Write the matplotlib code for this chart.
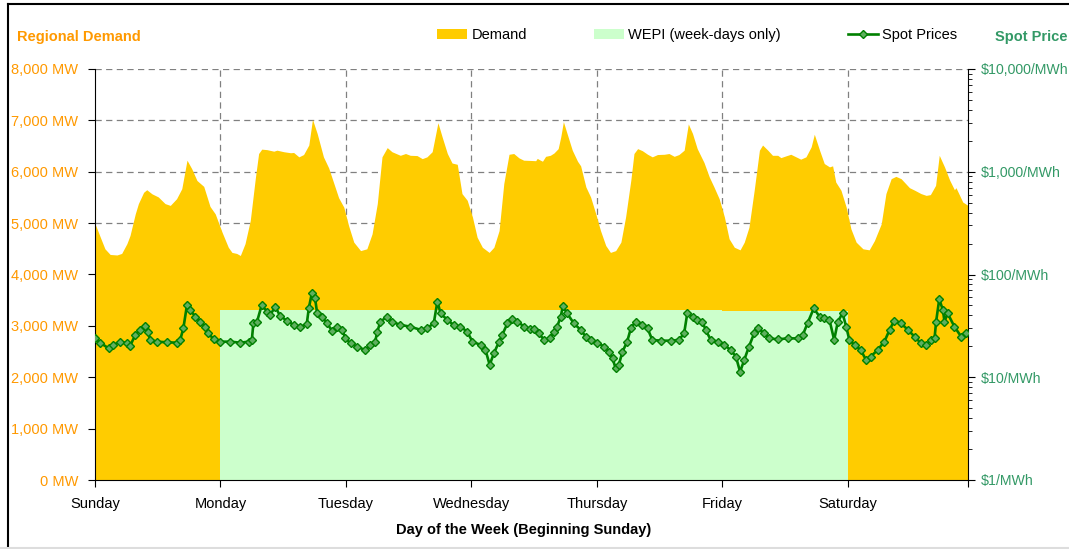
import matplotlib
matplotlib.use("Agg")
import matplotlib.pyplot as plt
from matplotlib.lines import Line2D
from matplotlib.patches import Patch
from matplotlib.ticker import FixedLocator, NullFormatter, LogLocator, FuncFormatter

plt.rcParams['font.family'] = ['Liberation Sans', 'DejaVu Sans']

# ---------------- data ----------------
day_names = ["Sunday", "Monday", "Tuesday", "Wednesday", "Thursday", "Friday", "Saturday"]

demand_hours = [0, 1.0, 1.9, 2.9, 4.2, 5.1, 6.1, 6.7, 7.7, 8.3, 9.3, 9.9, 10.9, 12.1, 13.4, 14.4,
                15.6, 16.6, 17.6, 18.5, 19.5, 20.8, 22.0, 23.0, 24.3, 25.5, 26.2, 27.1, 27.8, 28.7,
                29.7, 30.7, 31.3, 31.9, 32.9, 34.2, 34.8, 36.1, 37.4, 38.0, 39.0, 39.9, 40.9, 41.6,
                42.5, 43.7, 44.7, 45.7, 46.6, 47.6, 48.5, 49.5, 50.8, 52.0, 53.0, 54.0, 54.9, 55.9,
                56.8, 58.4, 59.4, 60.3, 61.6, 62.6, 63.5, 64.5, 65.6, 66.4, 67.4, 68.3, 69.3, 70.2,
                71.2, 72.2, 73.1, 74.1, 75.4, 76.3, 77.3, 78.2, 79.2, 80.1, 81.1, 82.0, 83.3, 84.3,
                84.6, 85.2, 85.6, 86.2, 87.1, 87.8, 88.6, 89.1, 89.6, 90.3, 91.3, 92.3, 92.9, 93.9,
                94.8, 95.8, 96.7, 97.7, 98.6, 99.6, 100.6, 101.5, 102.5, 103.1, 103.8, 104.7, 105.7,
                106.6, 107.6, 108.9, 109.8, 110.8, 111.7, 112.7, 113.5, 114.3, 115.2, 116.5, 117.5,
                118.4, 119.4, 120.4, 121.3, 122.3, 123.4, 124.2, 125.1, 126.1, 127.1, 127.7, 128.7,
                129.6, 130.6, 131.2, 132.2, 133.1, 134.1, 135.0, 136.0, 137.0, 137.6, 138.6, 139.5,
                140.5, 141.1, 141.7, 142.7, 143.7, 144.6, 145.6, 146.9, 148.1, 149.1, 150.4, 151.3,
                152.3, 153.2, 154.2, 155.8, 156.8, 158.0, 159.0, 159.8, 160.8, 161.5, 162.5, 163.5,
                164.4, 164.7, 165.4, 166.0, 167.0]
demand_mw = [4990, 4730, 4500, 4390, 4380, 4410, 4600, 4760, 5180, 5380, 5600, 5650, 5570, 5510,
             5380, 5345, 5475, 5670, 6225, 6060, 5830, 5715, 5325, 5180, 4825, 4530, 4430, 4410,
             4370, 4600, 5050, 5900, 6355, 6440, 6430, 6400, 6420, 6390, 6370, 6375, 6290, 6335,
             6520, 7020, 6745, 6290, 6075, 5770, 5495, 5310, 4955, 4630, 4465, 4500, 4790, 5380,
             6290, 6470, 6390, 6320, 6355, 6320, 6315, 6255, 6290, 6390, 6955, 6680, 6355, 6170,
             6145, 5575, 5445, 5120, 4725, 4530, 4430, 4530, 4855, 5770, 6340, 6355, 6270, 6225,
             6220, 6215, 6260, 6225, 6205, 6300, 6320, 6365, 6450, 6680, 6975, 6745, 6420, 6205,
             6115, 5705, 5510, 5180, 4855, 4565, 4430, 4465, 4630, 5120, 5835, 6355, 6450, 6410,
             6340, 6290, 6335, 6340, 6355, 6300, 6335, 6420, 6930, 6745, 6450, 6180, 5900, 5705,
             5475, 5120, 4695, 4530, 4480, 4630, 4920, 5640, 6420, 6520, 6420, 6320, 6320, 6275,
             6310, 6340, 6290, 6245, 6290, 6485, 6730, 6420, 6160, 6095, 6115, 5800, 5640, 5310,
             4890, 4630, 4500, 4480, 4660, 4985, 5575, 5865, 5910, 5865, 5690, 5640, 5575, 5540,
             5555, 5735, 6320, 6095, 5835, 5650, 5690, 5540, 5410, 5345]

price_hours = [0, 1.0, 2.6, 3.5, 4.8, 6.1, 6.7, 7.7, 8.6, 9.6, 10.2, 10.5, 11.8, 13.7, 15.6, 16.3,
               16.9, 17.6, 18.2, 19.2, 20.1, 21.1, 21.7, 22.7, 23.9, 25.9, 27.8, 29.4, 30.0, 30.3,
               31.0, 31.9, 32.9, 33.5, 34.5, 35.4, 36.7, 38.0, 39.3, 40.5, 40.9, 41.5, 42.1, 42.5,
               43.4, 44.4, 45.3, 46.3, 47.3, 47.9, 48.9, 50.1, 51.7, 52.7, 53.6, 54.0, 54.6, 55.9,
               56.8, 58.4, 60.3, 62.3, 63.5, 64.8, 65.5, 66.1, 67.4, 68.6, 69.9, 71.2, 72.2, 73.8,
               74.7, 75.5, 76.3, 77.3, 77.9, 78.9, 79.8, 80.8, 82.1, 83.3, 83.9, 84.9, 85.9, 87.1,
               87.8, 88.4, 89.1, 89.5, 90.3, 91.6, 92.9, 93.9, 94.8, 96.1, 97.4, 98.3, 99.0, 99.6,
               100.2, 100.9, 101.8, 102.5, 103.4, 104.7, 105.7, 106.6, 108.2, 110.1, 111.7, 112.7,
               113.3, 114.3, 115.2, 116.2, 116.8, 117.8, 119.1, 120.4, 121.6, 122.6, 123.4, 124.2,
               125.1, 126.1, 126.9, 128.0, 129.0, 130.6, 132.5, 134.4, 135.4, 136.3, 137.5, 138.6,
               139.5, 140.5, 141.4, 142.1, 143.0, 143.7, 144.3, 145.3, 146.5, 147.5, 148.4, 149.7,
               151.0, 152.0, 152.9, 154.2, 155.5, 156.8, 158.0, 159.0, 159.9, 160.6, 160.9, 161.5,
               162.2, 162.5, 163.1, 164.4, 165.7, 166.6]
price_dollars = [23.9, 21.7, 19.1, 20.6, 22.2, 21.4, 20.1, 25.8, 28.9, 31.6, 27.8, 23.1, 22.2, 21.9,
                 21.7, 23.1, 29.9, 50.6, 45.2, 38.9, 34.8, 31.1, 26.8, 23.4, 22.2, 22.2, 21.7, 22.2,
                 23.1, 33.5, 34.8, 50.6, 43.5, 40.4, 48.7, 39.5, 35.6, 32.3, 31.1, 32.8, 46.9, 66.7,
                 58.6, 41.9, 38.9, 33.5, 28.5, 31.1, 28.9, 23.9, 21.4, 19.9, 18.4, 20.6, 22.2, 27.8,
                 34.8, 38.9, 34.8, 32.3, 31.1, 28.9, 29.9, 33.5, 54.5, 41.9, 36.1, 32.3, 31.1, 27.8,
                 22.2, 20.6, 18.4, 13.2, 17.1, 22.2, 25.8, 33.5, 36.6, 34.8, 31.1, 29.3, 29.3, 26.8,
                 23.1, 23.9, 27.8, 31.1, 38.9, 49.4, 41.9, 33.5, 28.9, 24.8, 23.1, 21.7, 19.9, 17.7,
                 15.3, 12.2, 13.2, 17.7, 22.2, 29.9, 34.8, 32.3, 29.9, 23.1, 22.7, 22.7, 23.1, 26.8,
                 41.9, 38.9, 36.1, 34.8, 28.9, 23.1, 22.2, 20.6, 18.4, 15.9, 11.3, 14.7, 19.9, 26.8,
                 29.9, 26.8, 23.9, 23.4, 23.9, 23.9, 25.8, 33.5, 46.9, 38.9, 37.5, 36.1, 23.1, 34.8,
                 41.9, 31.1, 23.1, 20.6, 18.4, 14.7, 15.9, 18.4, 22.2, 28.9, 35.6, 33.5, 28.9, 24.8,
                 21.4, 20.6, 23.1, 23.9, 34.8, 57.4, 45.2, 34.8, 41.9, 31.1, 24.8, 26.8]

wepi_day_edges = [24, 48, 72, 96, 120, 144]
wepi_mw = [3310, 3310, 3310, 3310, 3290]

mw_ticks = [0, 1000, 2000, 3000, 4000, 5000, 6000, 7000, 8000]
price_ticks = [1, 10, 100, 1000, 10000]

# ---------------- style ----------------
DEMAND_C = '#FFCC00'
WEPI_C = '#CCFFCC'
PRICE_C = '#008000'
ORANGE = '#FF9900'
SEAGREEN = '#339966'
FS = 10.5

W, H = 1069, 549
fig = plt.figure(figsize=(W / 100, H / 100), dpi=100)
ax = fig.add_axes([95 / W, 1 - 480 / H, (968 - 95) / W, (480 - 69) / H])

ax.fill_between(demand_hours, demand_mw, 0, color=DEMAND_C, lw=0, zorder=1)
ax.stairs(wepi_mw, wepi_day_edges, baseline=0, fill=True, color=WEPI_C, lw=0, zorder=2)

ax.set_xlim(0, 167.0)
ax.set_ylim(0, 8000)
ax.set_axisbelow(True)

ax.set_yticks(mw_ticks)
ax.set_yticklabels([f"{v:,} MW" for v in mw_ticks], color=ORANGE, fontsize=FS)
day_pos = [24 * i for i in range(7)]
ax.set_xticks(day_pos + [167.0])
ax.set_xticklabels(day_names + [""], fontsize=FS)
ax.tick_params(axis='x', direction='out', length=5, pad=7, color='black')
ax.tick_params(axis='y', direction='out', length=5, pad=7, color='black')

grid_kw = dict(color='#808080', lw=0.9, ls=(0, (5, 3.5)))
ax.yaxis.grid(True, **grid_kw)
for d in day_pos[1:]:
    ax.axvline(d, zorder=0.5, **grid_kw)

ax.spines['top'].set_visible(False)
ax.spines['left'].set_color('black')
ax.spines['bottom'].set_color('black')
ax.spines['right'].set_visible(False)

ax2 = ax.twinx()
ax2.set_yscale('log')
ax2.set_ylim(1, 10000)
ax2.plot(price_hours, price_dollars, color=PRICE_C, lw=1.9, marker='D', markersize=4,
         markerfacecolor='#5FAF5F', markeredgecolor=PRICE_C, markeredgewidth=1.0, zorder=3)
ax2.yaxis.set_major_locator(FixedLocator(price_ticks))
ax2.yaxis.set_major_formatter(FuncFormatter(lambda v, p: f"${v:,.0f}/MWh"))
ax2.yaxis.set_minor_locator(LogLocator(base=10, subs=range(2, 10)))
ax2.yaxis.set_minor_formatter(NullFormatter())
ax2.tick_params(axis='y', which='major', direction='out', length=5, pad=4,
                labelsize=10.2, labelcolor=SEAGREEN)
ax2.tick_params(axis='y', which='minor', direction='out', length=3)
ax2.spines['top'].set_visible(False)
ax2.spines['left'].set_visible(False)
ax2.spines['bottom'].set_visible(False)
ax2.spines['right'].set_color('black')

# titles / labels
fig.text(17 / W, 1 - 37 / H, "Regional Demand", color=ORANGE, fontsize=FS,
         fontweight='bold', ha='left', va='center')
fig.text(995 / W, 1 - 37 / H, "Spot Price", color=SEAGREEN, fontsize=FS,
         fontweight='bold', ha='left', va='center')
fig.text(524 / W, 1 - 530 / H, "Day of the Week (Beginning Sunday)", fontsize=FS,
         fontweight='bold', ha='center', va='center')

handles = [Patch(facecolor=DEMAND_C, edgecolor='none'),
           Patch(facecolor=WEPI_C, edgecolor='none'),
           Line2D([], [], color=PRICE_C, lw=1.9, marker='D', markersize=4,
                  markerfacecolor='#5FAF5F', markeredgecolor=PRICE_C)]
labels = ["Demand", "WEPI (week-days only)", "Spot Prices"]
fig.legend(handles, labels, loc='center left', bbox_to_anchor=(437 / W, 1 - 35 / H),
           bbox_transform=fig.transFigure, ncol=3, frameon=False, fontsize=FS,
           borderpad=0, borderaxespad=0, handlelength=2.05, handleheight=0.7,
           handletextpad=0.3, columnspacing=4.6)

# chart-area frame
fig.add_artist(Line2D([8 / W, 8 / W], [1 - 546 / H, 1 - 4 / H], color='black', lw=1.5,
                      transform=fig.transFigure))
fig.add_artist(Line2D([8 / W, 1.0], [1 - 4 / H, 1 - 4 / H], color='black', lw=1.5,
                      transform=fig.transFigure))
fig.add_artist(Line2D([0, 1.0], [1 - 547.5 / H, 1 - 547.5 / H], color='#DDDDDD', lw=1.5,
                      transform=fig.transFigure))

fig.savefig("out.png", dpi=100)
